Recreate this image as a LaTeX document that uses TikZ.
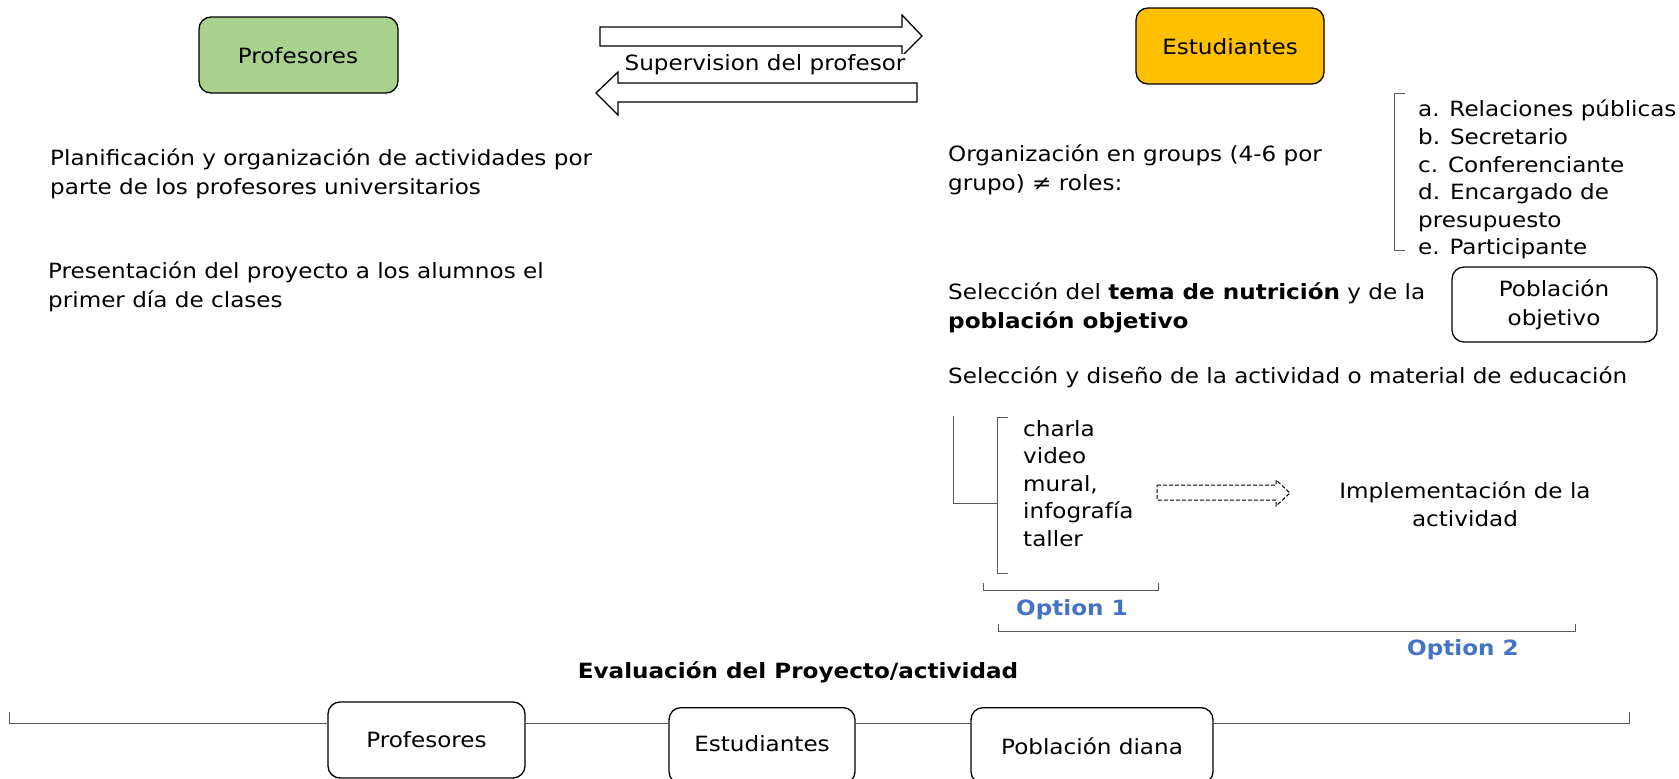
\documentclass[tikz,border=0pt]{standalone}
\usepackage{fontspec}
\setmainfont{DejaVu Sans}[FakeStretch=1.1]
\usetikzlibrary{positioning}
\definecolor{boxgreen}{HTML}{A9D18E}
\definecolor{boxorange}{HTML}{FFC000}
\definecolor{optblue}{HTML}{4472C4}
\definecolor{brk}{HTML}{595959}
\tikzset{
  txt/.style={inner sep=0pt, font=\fontsize{21}{28.5}\selectfont, align=left},
  rbox/.style={draw=black, line width=1.3pt, rounded corners=12pt, inner sep=0pt, font=\fontsize{21}{28}\selectfont, align=center},
  blockarrow/.style={draw=black, line width=1.3pt, fill=white},
  brline/.style={draw=brk, line width=1pt},
  opt/.style={inner sep=0pt, text=optblue, font=\bfseries\fontsize{21}{24}\selectfont},
}
\begin{document}
\begin{tikzpicture}[x=1pt,y=-1pt]
\useasboundingbox (0,0) rectangle (1679,779);
% top boxes
\draw[rbox, fill=boxgreen] (199,17) rectangle (398,93);
\node[txt] (prof) at (298,56) {Profesores};
\draw[rbox, fill=boxorange] (1136,8) rectangle (1324,84);
\node[txt] (est) at (1230,47) {Estudiantes};
% block arrows
\draw[blockarrow] (600,27) -- (902,27) -- (902,15) -- (922,36) -- (902,56) -- (902,46) -- (600,46) -- cycle;
\draw[blockarrow] (917,83) -- (618,83) -- (618,72) -- (596,93) -- (618,115) -- (618,102) -- (917,102) -- cycle;
\node[txt, fill=white, inner sep=1pt] (sup) at (765,65) {Supervision del profesor};
% left texts
\node[txt, anchor=north west] (plan) at (50,149) {Planificación y organización de actividades por\\parte de los profesores universitarios};
\node[txt, anchor=north west] (pres) at (48,262) {Presentación del proyecto a los alumnos el\\primer día de clases};
% right texts
\node[txt, anchor=north west] (org) at (948,145) {Organización en groups (4-6 por\\grupo) ≠ roles:};
\draw[brline] (1405,93) -- (1394,93) -- (1394,250) -- (1405,250);
\node[txt, anchor=north west, font=\fontsize{21}{27.6}\selectfont] (roles) at (1418,100) {a. Relaciones públicas\\b. Secretario\\c. Conferenciante\\d. Encargado de\\presupuesto\\e. Participante};
\node[txt, anchor=north west] (sel) at (948,283) {Selección del \textbf{tema de nutrición} y de la\\\textbf{población objetivo}};
\draw[rbox] (1452,267) rectangle (1657,342);
\node[txt, align=center] (pob) at (1554,305) {Población\\objetivo};
\node[txt, anchor=north west] (dis) at (948,367) {Selección y diseño de la actividad o material de educación};
% options
\draw[brline] (953,416) -- (953,503) -- (997,503);
\draw[brline] (1008,417) -- (997,417) -- (997,573) -- (1008,573);
\node[txt, anchor=north west, font=\fontsize{21}{27.5}\selectfont] (items) at (1023,420) {charla\\video\\mural,\\infografía\\taller};
\draw[blockarrow, line width=1pt, dash pattern=on 4pt off 2pt] (1157,485) -- (1276,485) -- (1276,480) -- (1290,493) -- (1276,506) -- (1276,500) -- (1157,500) -- cycle;
\node[txt, align=center] (impl) at (1465,504) {Implementación de la\\actividad};
\draw[brline] (983,583) -- (983,590) -- (1158,590) -- (1158,583);
\node[opt] (o1) at (1072,610) {Option 1};
\draw[brline] (998,624) -- (998,631) -- (1575,631) -- (1575,624);
\node[opt] (o2) at (1463,650) {Option 2};
% evaluation
\node[txt, font=\bfseries\fontsize{21}{24}\selectfont] (eval) at (798,672) {Evaluación del Proyecto/actividad};
\coordinate (bl) at (9,712);
\coordinate (br) at (1629,712);
\node[rbox, minimum width=197pt, minimum height=76pt] (bp) at (426.5,740) {Profesores};
\node[rbox, minimum width=186pt, minimum height=76pt, anchor=north] (be) at (762,707) {};
\node[txt] (bet) at (762,744) {Estudiantes};
\node[rbox, minimum width=242pt, minimum height=76pt, anchor=north] (bd) at (1092,707) {};
\node[txt] (bdt) at (1092,746) {Población diana};
\draw[brline] (bl) -- (9,723) -- (bp.west |- 0,723);
\draw[brline] (bp.east |- 0,723) -- (be.west |- 0,723);
\draw[brline] (be.east |- 0,723) -- (bd.west |- 0,723);
\draw[brline] (bd.east |- 0,723) -- (1629,723) -- (br);
\end{tikzpicture}
\end{document}
